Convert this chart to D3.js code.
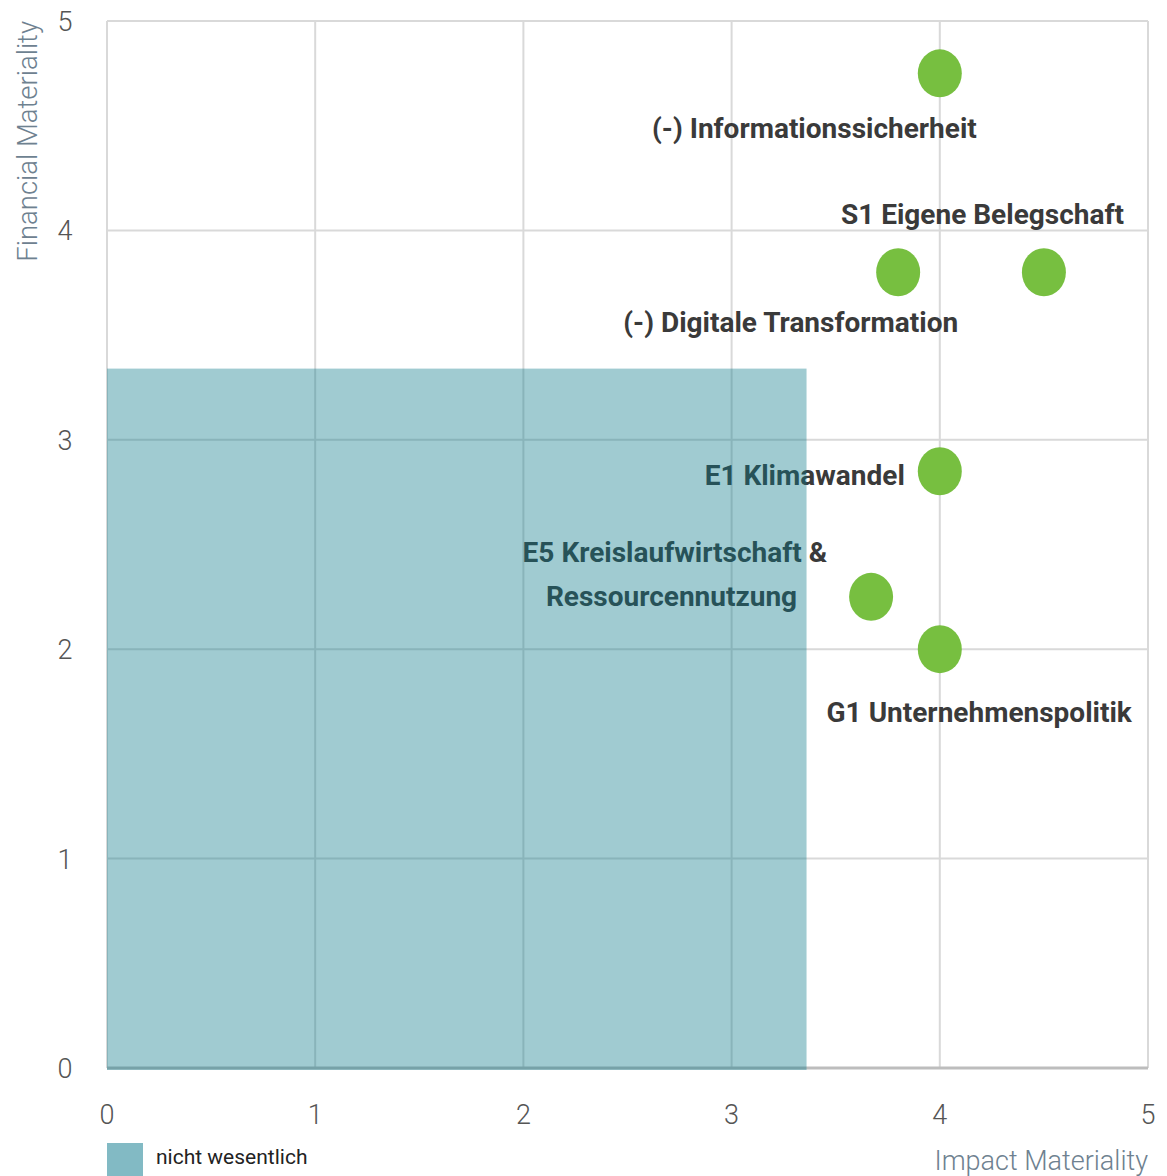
<!DOCTYPE html>
<html>
<head>
<meta charset="utf-8">
<script src="https://cdn.jsdelivr.net/npm/d3@7"></script>
<style>
  body { margin: 0; background: #fff; }
  svg { display: block; font-family: Roboto, 'Noto Sans', sans-serif; }
</style>
</head>
<body>
<div id="viz"></div>
<script>
// data
const topics = ['(-) Informationssicherheit', 'S1 Eigene Belegschaft', '(-) Digitale Transformation',
  'E1 Klimawandel', 'E5 Kreislaufwirtschaft &|Ressourcennutzung', 'G1 Unternehmenspolitik'];
const impact = [4.0, 4.5, 3.8, 4.0, 3.67, 4.0];
const financial = [4.75, 3.8, 3.8, 2.85, 2.25, 2.0];
const ticks = [0, 1, 2, 3, 4, 5];
const threshold = [3.36, 3.34]; // impact, financial
const legendLabel = 'nicht wesentlich';

const width = 1167, height = 1176,
  margin = { top: 21, right: 19, bottom: 108, left: 107 };

const svg = d3.select('#viz')
  .append('svg')
  .attr('width', width)
  .attr('height', height);

const xScale = d3.scaleLinear()
  .domain([0, 5])
  .range([margin.left, width - margin.right]);

const yScale = d3.scaleLinear()
  .domain([0, 5])
  .range([height - margin.bottom, margin.top]);

// grid
const grid = svg.append('g');
grid.selectAll('.vline').data(ticks)
  .enter().append('line')
  .attr('x1', d => xScale(d)).attr('x2', d => xScale(d))
  .attr('y1', yScale(0)).attr('y2', yScale(5))
  .attr('stroke', '#d9d9d9').attr('stroke-width', 2);
grid.selectAll('.hline').data(ticks)
  .enter().append('line')
  .attr('x1', xScale(0)).attr('x2', xScale(5))
  .attr('y1', d => yScale(d)).attr('y2', d => yScale(d))
  .attr('stroke', '#d9d9d9').attr('stroke-width', 2);

// bottom axis line
svg.append('line')
  .attr('x1', xScale(0)).attr('x2', xScale(5))
  .attr('y1', yScale(0)).attr('y2', yScale(0))
  .attr('stroke', '#bdbdbd').attr('stroke-width', 3);

// tick labels
svg.append('g').selectAll('text').data(ticks)
  .enter().append('text')
  .attr('x', 65)
  .attr('y', d => yScale(d) + 10)
  .attr('text-anchor', 'middle')
  .attr('font-size', 27).attr('font-weight', 300)
  .attr('fill', '#555')
  .text(d => d);

svg.append('g').selectAll('text').data(ticks)
  .enter().append('text')
  .attr('x', d => xScale(d))
  .attr('y', yScale(0) + 56)
  .attr('text-anchor', 'middle')
  .attr('font-size', 27).attr('font-weight', 300)
  .attr('fill', '#555')
  .text(d => d);

// axis titles
svg.append('text')
  .attr('transform', 'translate(37,' + yScale(5) + ') rotate(-90)')
  .attr('text-anchor', 'end')
  .attr('font-size', 27.5).attr('font-weight', 300)
  .attr('fill', '#6e8190')
  .text('Financial Materiality');

svg.append('text')
  .attr('x', xScale(5))
  .attr('y', 1170)
  .attr('text-anchor', 'end')
  .attr('font-size', 27).attr('font-weight', 300)
  .attr('fill', '#6e8190')
  .text('Impact Materiality');

// points
svg.append('g').selectAll('ellipse').data(impact)
  .enter().append('ellipse')
  .attr('cx', d => xScale(d))
  .attr('cy', (d, i) => yScale(financial[i]))
  .attr('rx', 22).attr('ry', 24)
  .attr('fill', '#77bf40');

// labels: offset from its point, anchor
const labelPlace = [
  { dx: 37, dy: 65, anchor: 'end' },
  { dx: 80, dy: -48, anchor: 'end' },
  { dx: 60, dy: 60, anchor: 'end' },
  { dx: -35, dy: 14, anchor: 'end' },
  { dx: -44, dy: -35, anchor: 'end', line2dx: -74 },
  { dx: 192, dy: 73, anchor: 'end' }
];

const labels = svg.append('g').selectAll('text').data(topics)
  .enter().append('text')
  .attr('text-anchor', (d, i) => labelPlace[i].anchor)
  .attr('font-size', 28).attr('font-weight', 700)
  .attr('fill', '#3a3a3a');

labels.each(function (d, i) {
  const p = labelPlace[i],
    x = xScale(impact[i]) + p.dx,
    y = yScale(financial[i]) + p.dy,
    parts = d.split('|');
  const t = d3.select(this);
  t.append('tspan').attr('x', x).attr('y', y).text(parts[0]);
  if (parts[1]) {
    t.append('tspan')
      .attr('x', xScale(impact[i]) + p.line2dx)
      .attr('y', y + 44)
      .text(parts[1]);
  }
});

// non-material zone, drawn over the labels
svg.append('rect')
  .attr('x', xScale(0))
  .attr('y', yScale(threshold[1]))
  .attr('width', xScale(threshold[0]) - xScale(0))
  .attr('height', yScale(0) - yScale(threshold[1]) + 2)
  .attr('fill', '#0a7889')
  .attr('opacity', 0.39);

// legend
svg.append('rect')
  .attr('x', xScale(0)).attr('y', 1143)
  .attr('width', 36).attr('height', 33)
  .attr('fill', '#82bac4');
svg.append('text')
  .attr('x', 156).attr('y', 1164)
  .attr('font-size', 21)
  .attr('fill', '#222')
  .text(legendLabel);
</script>
</body>
</html>
